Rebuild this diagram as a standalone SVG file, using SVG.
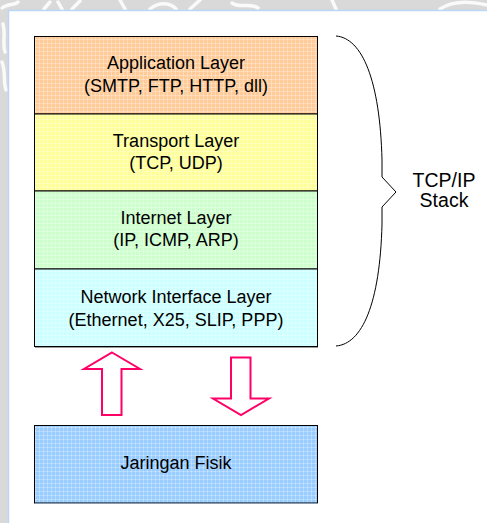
<svg xmlns="http://www.w3.org/2000/svg" width="487" height="523" viewBox="0 0 487 523">
  <style>
    .lbl { font-family: "Liberation Sans", Arial, sans-serif; font-size: 18px; fill: #000; text-anchor: middle; }
    .big { font-size: 19.5px; }
    .box { stroke: #000; stroke-width: 1; }
    .arrow { fill: #fff; stroke: #ff0066; stroke-width: 2; stroke-linejoin: miter; }
    .brace { fill: none; stroke: #000; stroke-width: 1; }
    .wm { fill: none; stroke: #fff; stroke-width: 3.5; stroke-linecap: round; opacity: 0.85; }
  </style>
  <defs>
    <!-- fine woven grid laid over the coloured layer fills -->
    <pattern id="weave" width="4" height="4" patternUnits="userSpaceOnUse">
      <rect x="0" y="3" width="4" height="1" fill="#fff" opacity="0.28"/>
      <rect x="3" y="0" width="1" height="4" fill="#fff" opacity="0.28"/>
    </pattern>
  </defs>

  <!-- grey page background with faint white ornament -->
  <rect x="0" y="0" width="487" height="523" fill="#d9d9d9"/>
  <g id="ornament">
    <path class="wm" d="M2,8 C8,3 14,6 18,2 M44,9 L50,2 M58,2 L62,9 M72,9 L80,1 M120,0 L125,9 M150,9 C158,2 170,2 176,9 M190,9 L200,0 M232,3 C240,9 250,2 258,8 M332,0 L336,9 M440,9 C452,1 470,1 487,5"/>
    <path class="wm" d="M3,24 C6,34 2,44 5,52 M2,62 C6,72 3,82 6,90"/>
  </g>
  <rect x="8.5" y="10.5" width="490" height="520" fill="#fff" stroke="#bcd6f7" stroke-width="1.5"/>

  <!-- TCP/IP layer stack -->
  <g id="layer-application">
    <rect x="34" y="36" width="284" height="78" fill="#ffcc99"/>
    <rect x="34" y="36" width="284" height="78" fill="url(#weave)"/>
    <rect class="box" x="34.5" y="36.5" width="283" height="77.5" fill="none"/>
    <text class="lbl" x="176" y="69">Application Layer</text>
    <text class="lbl" x="176" y="92">(SMTP, FTP, HTTP, dll)</text>
  </g>
  <g id="layer-transport">
    <rect x="34" y="114" width="284" height="77" fill="#ffff99"/>
    <rect x="34" y="114" width="284" height="77" fill="url(#weave)"/>
    <rect class="box" x="34.5" y="114" width="283" height="77" fill="none"/>
    <text class="lbl" x="176" y="147">Transport Layer</text>
    <text class="lbl" x="176" y="169">(TCP, UDP)</text>
  </g>
  <g id="layer-internet">
    <rect x="34" y="191" width="284" height="78" fill="#ccffcc"/>
    <rect x="34" y="191" width="284" height="78" fill="url(#weave)"/>
    <rect class="box" x="34.5" y="191" width="283" height="78" fill="none"/>
    <text class="lbl" x="176" y="224">Internet Layer</text>
    <text class="lbl" x="176" y="246">(IP, ICMP, ARP)</text>
  </g>
  <g id="layer-network">
    <rect x="34" y="269" width="284" height="78" fill="#ccffff"/>
    <rect x="34" y="269" width="284" height="78" fill="url(#weave)"/>
    <rect class="box" x="34.5" y="269" width="283" height="77.5" fill="none"/>
    <line x1="35" y1="347.5" x2="318" y2="347.5" stroke="#999" stroke-width="1"/>
    <text class="lbl" x="176" y="302.5">Network Interface Layer</text>
    <text class="lbl" x="176" y="325.5">(Ethernet, X25, SLIP, PPP)</text>
  </g>

  <!-- physical network -->
  <g id="physical">
    <rect x="34" y="425" width="284" height="78" fill="#99ccff"/>
    <rect x="34" y="425" width="284" height="78" fill="url(#weave)"/>
    <rect class="box" x="34.5" y="425.5" width="283" height="77.5" fill="none" stroke="#222"/>
    <line x1="35" y1="503.5" x2="318" y2="503.5" stroke="#8899aa" stroke-width="1"/>
    <text class="lbl" x="176" y="469">Jaringan Fisik</text>
  </g>

  <!-- stack brace and its caption -->
  <g id="stack-label">
    <path class="brace" d="M336,36 C362,38 380,80 382,160 L382,177 L396,192 L382,207 L382,224 C380,304 362,344 336,346"/>
    <text class="lbl big" x="444" y="187">TCP/IP</text>
    <text class="lbl big" x="444" y="207">Stack</text>
  </g>

  <!-- data flow between stack and physical network -->
  <g id="connectors">
    <polygon class="arrow" points="112,352.5 140,369 121.5,369 121.5,415 102,415 102,369 84,369"/>
    <polygon class="arrow" points="231,357.5 250.5,357.5 250.5,398.5 269,398.5 241,415 213,398.5 231,398.5"/>
  </g>
</svg>
